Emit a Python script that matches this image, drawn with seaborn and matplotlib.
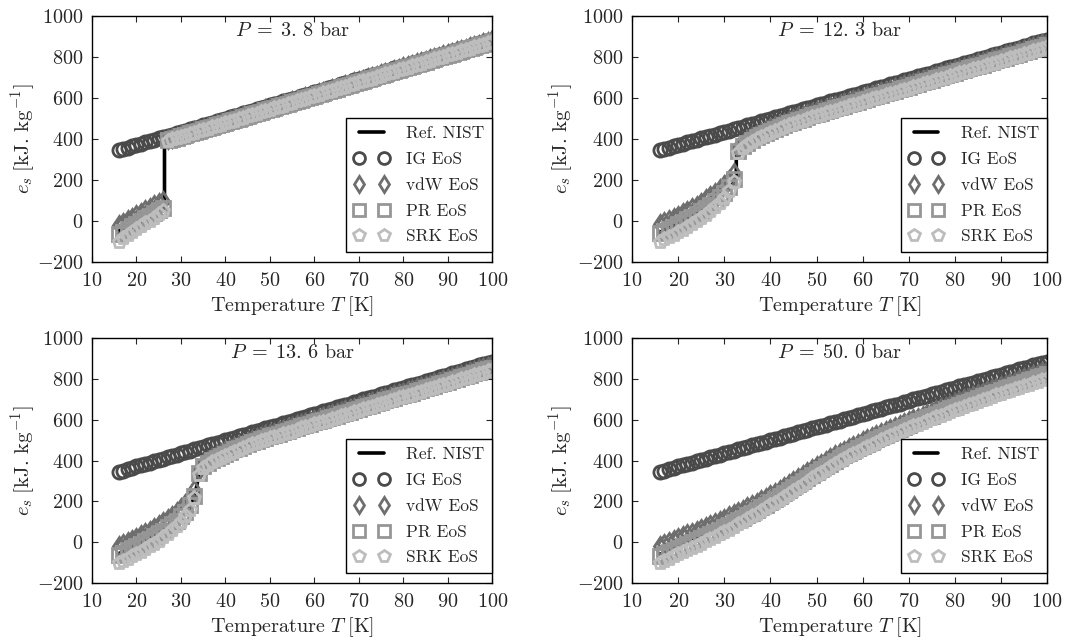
import numpy as np
import pandas as pd
import matplotlib
matplotlib.use('Agg')
import matplotlib.pyplot as plt
import seaborn as sns

# temperatures of the EoS points [K]
T = list(range(16, 101))

# ideal gas (same at every pressure)
ig = [345, 351, 358, 364, 371, 377, 384, 390, 396, 403,
      409, 416, 422, 429, 435, 441, 448, 454, 461, 467,
      474, 480, 486, 493, 499, 506, 512, 519, 525, 531,
      538, 544, 551, 557, 564, 570, 576, 583, 589, 596,
      602, 609, 615, 621, 628, 634, 641, 647, 654, 660,
      666, 673, 679, 686, 692, 699, 705, 711, 718, 724,
      731, 737, 744, 750, 756, 763, 769, 776, 782, 789,
      795, 801, 808, 814, 821, 827, 834, 840, 846, 853,
      859, 866, 872, 879, 885]

# P = 3.8 bar
vdw_38 = [-20, -8, 4, 16, 28, 40, 52, 64, 76, 88,
          100, 398, 405, 411, 418, 424, 431, 438, 444, 451,
          458, 464, 471, 477, 484, 491, 497, 504, 511, 517,
          524, 530, 537, 544, 550, 557, 563, 570, 577, 583,
          590, 596, 603, 610, 616, 623, 630, 636, 643, 650,
          656, 663, 669, 676, 683, 689, 696, 702, 709, 716,
          722, 729, 735, 742, 749, 755, 762, 769, 775, 782,
          788, 795, 802, 808, 815, 821, 828, 835, 841, 848,
          855, 861, 868, 874, 881]
pr_38 = [-65, -52, -39, -26, -13, 0, 13, 26, 39, 52,
         65, 394, 401, 407, 414, 420, 427, 434, 440, 447,
         454, 460, 467, 473, 480, 487, 493, 500, 507, 513,
         520, 526, 533, 540, 546, 553, 559, 566, 573, 579,
         586, 592, 599, 606, 612, 619, 626, 632, 639, 646,
         652, 659, 665, 672, 679, 685, 692, 698, 705, 712,
         718, 725, 731, 738, 745, 751, 758, 765, 771, 778,
         784, 791, 798, 804, 811, 817, 824, 831, 837, 844,
         851, 857, 864, 870, 877]
srk_38 = [-100, -85, -70, -55, -40, -26, -12, 2, 17, 32,
          48, 391, 398, 404, 411, 417, 424, 431, 437, 444,
          451, 457, 464, 470, 477, 484, 490, 497, 504, 510,
          517, 523, 530, 537, 543, 550, 556, 563, 570, 576,
          583, 589, 596, 603, 609, 616, 623, 629, 636, 643,
          649, 656, 662, 669, 676, 682, 689, 695, 702, 709,
          715, 722, 728, 735, 742, 748, 755, 762, 768, 775,
          781, 788, 795, 801, 808, 814, 821, 828, 834, 841,
          848, 854, 861, 867, 874]
nist_T_38 = [16, 20, 24, 26.3, 26.3, 30, 40, 50, 60, 70, 80, 90, 100]
nist_38 = [-50, 0, 50, 85, 372, 400, 470, 540, 605, 672, 738, 805, 870]

# P = 12.3 bar
vdw_123 = [-15, -5, 5, 15, 25, 37, 49, 62, 75, 90,
           105, 120, 137, 155, 175, 200, 232, 355, 378, 394,
           408, 420, 431, 442, 452, 462, 471, 480, 488, 496,
           505, 512, 520, 527, 535, 541, 548, 555, 561, 568,
           575, 582, 588, 594, 602, 608, 615, 621, 629, 635,
           641, 648, 655, 662, 668, 675, 682, 688, 695, 702,
           709, 715, 722, 729, 735, 742, 748, 756, 762, 769,
           775, 782, 789, 795, 802, 809, 816, 822, 828, 836,
           842, 849, 856, 863, 869]
pr_123 = [-60, -49, -38, -27, -16, -4, 8, 21, 34, 48,
          63, 79, 96, 115, 137, 165, 205, 342, 366, 382,
          396, 408, 419, 430, 440, 450, 459, 468, 476, 484,
          493, 500, 508, 515, 523, 529, 536, 543, 549, 556,
          563, 570, 576, 582, 590, 596, 603, 609, 617, 623,
          629, 636, 643, 650, 656, 663, 670, 676, 683, 690,
          697, 703, 710, 717, 723, 730, 736, 744, 750, 757,
          763, 770, 777, 783, 790, 797, 804, 810, 816, 824,
          830, 837, 844, 851, 857]
srk_123 = [-100, -89, -78, -67, -55, -43, -30, -16, -2, 14,
           30, 47, 66, 87, 112, 145, 190, 332, 356, 372,
           386, 398, 409, 420, 430, 440, 449, 458, 466, 474,
           483, 490, 498, 505, 513, 519, 526, 533, 539, 546,
           553, 560, 566, 572, 580, 586, 593, 599, 607, 613,
           619, 626, 633, 640, 646, 653, 660, 666, 673, 680,
           687, 693, 700, 707, 713, 720, 726, 734, 740, 747,
           753, 760, 767, 773, 780, 787, 794, 800, 806, 814,
           820, 827, 834, 841, 847]
nist_T_123 = [16, 20, 24, 28, 30, 32, 32.6, 32.6, 34, 36, 40, 50, 60, 70, 80, 90, 100]
nist_123 = [-55, -10, 35, 95, 135, 185, 210, 345, 370, 395, 440, 523, 590, 656, 723, 790, 857]

# P = 13.6 bar
vdw_136 = [-18, -8, 2, 12, 22, 33, 45, 57, 70, 84,
           98, 113, 129, 146, 165, 186, 212, 255, 355, 384,
           400, 413, 425, 436, 446, 456, 466, 475, 483, 491,
           501, 508, 516, 523, 531, 537, 544, 551, 557, 564,
           572, 579, 585, 591, 599, 605, 612, 618, 626, 632,
           638, 645, 652, 659, 665, 672, 679, 685, 692, 699,
           706, 712, 719, 726, 732, 739, 745, 753, 759, 766,
           772, 779, 786, 792, 799, 806, 813, 819, 825, 833,
           839, 846, 853, 860, 866]
pr_136 = [-62, -51, -40, -29, -18, -7, 5, 17, 30, 43,
          57, 72, 88, 106, 126, 150, 180, 228, 340, 372,
          388, 401, 413, 424, 434, 444, 454, 463, 471, 479,
          489, 496, 504, 511, 519, 525, 532, 539, 545, 552,
          560, 567, 573, 579, 587, 593, 600, 606, 614, 620,
          626, 633, 640, 647, 653, 660, 667, 673, 680, 687,
          694, 700, 707, 714, 720, 727, 733, 741, 747, 754,
          760, 767, 774, 780, 787, 794, 801, 807, 813, 821,
          827, 834, 841, 848, 854]
srk_136 = [-102, -91, -80, -69, -58, -46, -34, -21, -7, 8,
           24, 40, 58, 78, 100, 126, 160, 215, 330, 362,
           378, 391, 403, 414, 424, 434, 444, 453, 461, 469,
           479, 486, 494, 501, 509, 515, 522, 529, 535, 542,
           550, 557, 563, 569, 577, 583, 590, 596, 604, 610,
           616, 623, 630, 637, 643, 650, 657, 663, 670, 677,
           684, 690, 697, 704, 710, 717, 723, 731, 737, 744,
           750, 757, 764, 770, 777, 784, 791, 797, 803, 811,
           817, 824, 831, 838, 844]
nist_T_136 = [16, 20, 24, 28, 30, 32, 33, 33.6, 34, 36, 40, 50, 60, 70, 80, 90, 100]
nist_136 = [-57, -12, 32, 90, 128, 175, 220, 280, 335, 385, 432, 519, 587, 653, 720, 787, 854]

# P = 50 bar
vdw_500 = [-20, -10, 0, 10, 20, 29, 38, 47, 56, 65,
           75, 85, 95, 105, 115, 126, 137, 148, 159, 170,
           182, 194, 206, 218, 230, 243, 257, 270, 284, 298,
           313, 328, 342, 357, 372, 385, 398, 412, 425, 438,
           449, 460, 472, 483, 494, 504, 514, 525, 535, 545,
           554, 564, 573, 583, 592, 601, 610, 620, 629, 638,
           647, 656, 664, 673, 682, 690, 699, 707, 716, 724,
           732, 740, 748, 756, 764, 772, 780, 787, 795, 803,
           810, 818, 825, 833, 840]
pr_500 = [-70, -60, -50, -40, -30, -20, -10, 0, 10, 20,
          31, 41, 52, 62, 73, 85, 97, 108, 120, 132,
          145, 158, 171, 184, 197, 211, 225, 240, 254, 268,
          283, 298, 313, 328, 343, 357, 371, 385, 399, 413,
          425, 437, 448, 460, 472, 483, 493, 504, 514, 525,
          535, 544, 554, 564, 574, 583, 592, 602, 611, 620,
          629, 638, 646, 655, 664, 672, 681, 689, 698, 706,
          714, 722, 730, 738, 746, 754, 762, 769, 777, 785,
          792, 800, 807, 815, 822]
srk_500 = [-100, -90, -80, -70, -60, -50, -39, -29, -18, -8,
           4, 15, 27, 38, 50, 62, 75, 87, 100, 112,
           126, 139, 153, 166, 180, 194, 209, 223, 238, 252,
           267, 282, 297, 312, 327, 341, 355, 369, 383, 397,
           409, 421, 432, 444, 456, 467, 478, 488, 499, 510,
           520, 529, 539, 548, 558, 567, 576, 585, 594, 603,
           612, 620, 629, 637, 646, 654, 662, 671, 679, 687,
           695, 703, 711, 719, 727, 734, 742, 749, 757, 764,
           771, 778, 786, 793, 800]
nist_T_500 = [16, 20, 30, 40, 50, 60, 70, 80, 90, 100]
nist_500 = [-60, -20, 80, 200, 345, 470, 572, 662, 744, 820]

pressures = ['3.\\,8', '12.\\,3', '13.\\,6', '50.\\,0']
panels = [
    (nist_T_38, nist_38, vdw_38, pr_38, srk_38),
    (nist_T_123, nist_123, vdw_123, pr_123, srk_123),
    (nist_T_136, nist_136, vdw_136, pr_136, srk_136),
    (nist_T_500, nist_500, vdw_500, pr_500, srk_500),
]

sns.set_theme(style='ticks')
plt.rcParams['font.family'] = 'serif'
plt.rcParams['font.serif'] = ['cmr10', 'DejaVu Serif']
plt.rcParams['mathtext.fontset'] = 'cm'
plt.rcParams['axes.formatter.use_mathtext'] = True
plt.rcParams['axes.unicode_minus'] = True

fig = plt.figure(figsize=(10.7, 6.43), dpi=100)
positions = [
    [0.086, 0.5925, 0.374, 0.3826],
    [0.5907, 0.5925, 0.3879, 0.3826],
    [0.086, 0.0933, 0.374, 0.381],
    [0.5907, 0.0933, 0.3879, 0.381],
]

styles = [
    ('IG EoS', 'o', '#4a4a4a'),
    ('vdW EoS', 'd', '#6e6e6e'),
    ('PR EoS', 's', '#969696'),
    ('SRK EoS', 'p', '#bdbdbd'),
]

for i, (nT, nE, vdw, pr, srk) in enumerate(panels):
    ax = fig.add_axes(positions[i])

    sns.lineplot(x=nT, y=nE, ax=ax, color='black', lw=2.6,
                 estimator=None, sort=False, label='Ref. NIST')

    for (lab, mk, col), vals in zip(styles, [ig, vdw, pr, srk]):
        sns.lineplot(x=T, y=vals, ax=ax, estimator=None, sort=False,
                     linestyle='none', marker=mk, markersize=9.5,
                     markerfacecolor='none', markeredgecolor=col,
                     markeredgewidth=2, color=col, label=lab)

    ax.set_xlim(10, 100)
    ax.set_ylim(-200, 1000)
    ax.set_xticks(np.arange(10, 101, 10))
    ax.set_yticks(np.arange(-200, 1001, 200))
    ax.tick_params(direction='in', top=True, right=True, length=4,
                   width=0.8, labelsize=14.5)
    ax.tick_params(axis='x', pad=7)
    ax.tick_params(axis='y', pad=6)
    for s in ax.spines.values():
        s.set_linewidth(1.0)
        s.set_color('black')

    ax.set_xlabel(r'Temperature $T\;$[K]', fontsize=14.5, labelpad=3)
    ax.set_ylabel(r'$e_s\;[\mathrm{kJ.\,kg^{-1}}]$', fontsize=15)
    ax.yaxis.set_label_coords(-0.135, 0.5)
    ax.text(0.5, 0.975, r'$P\;=\;%s$ bar' % pressures[i], transform=ax.transAxes,
            ha='center', va='top', fontsize=14.5)

    leg = ax.legend(loc='lower right', bbox_to_anchor=(1.0, 0.04),
                    borderaxespad=0, numpoints=2, fontsize=12.5,
                    fancybox=False, framealpha=1, edgecolor='black',
                    handlelength=2.0, handletextpad=1.0, labelspacing=0.6,
                    borderpad=0.45, markerscale=0.9)
    leg.get_frame().set_linewidth(1.0)

fig.savefig('out.png', dpi=100)
